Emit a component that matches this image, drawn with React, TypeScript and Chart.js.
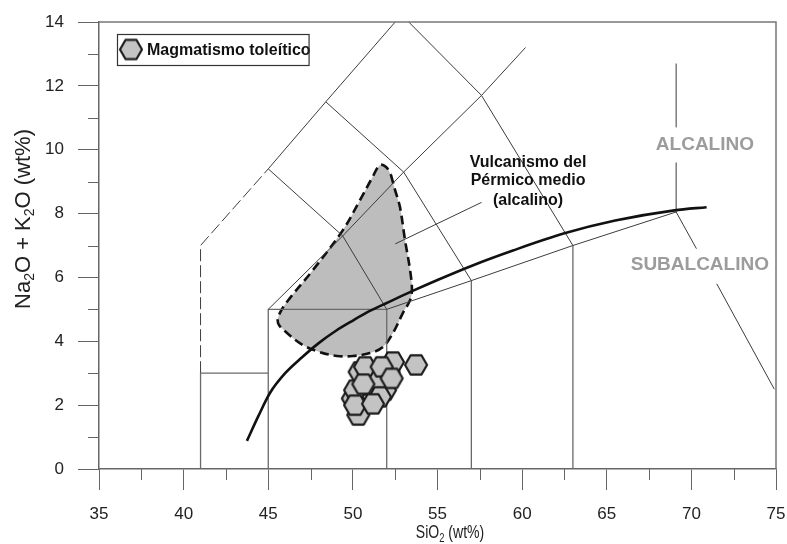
import React, { useEffect, useRef } from "react";
import { Chart, registerables } from "chart.js";

Chart.register(...registerables);

// ---------- axes ----------
const X_MIN = 35;
const X_MAX = 75;
const Y_MIN = 0;
const Y_MAX = 14;
const X_STEP = 5;
const Y_STEP = 2;
const X_MINOR_TICKS = [37.5, 42.5, 47.5, 52.5, 57.5, 62.5, 67.5, 72.5];
const Y_MINOR_TICKS = [1, 3, 5, 7, 9, 11, 13];

const X_TITLE = [
  { t: "SiO", sub: false },
  { t: "2", sub: true },
  { t: " (wt%)", sub: false },
];
const Y_TITLE = [
  { t: "Na", sub: false },
  { t: "2", sub: true },
  { t: "O + K", sub: false },
  { t: "2", sub: true },
  { t: "O (wt%)", sub: false },
];

// ---------- data ----------
// Magmatismo toleítico samples (SiO2 wt%, Na2O+K2O wt%)
const THOL_SIO2 = [51.3, 50.4, 52.1, 51.0, 51.9, 52.37, 51.5, 50.72, 51.7, 50.0, 51.6, 50.13, 50.32, 52.29, 50.62, 50.13, 51.19, 53.73];
const THOL_ALK = [3.04, 3.04, 3.04, 2.63, 2.47, 3.35, 2.79, 3.2, 3.2, 2.21, 2.26, 2.47, 1.69, 2.84, 2.66, 2.0, 2.04, 3.26];

// Field of the Middle Permian volcanism (alkaline)
const PERM_SIO2 = [52.25, 52.49, 52.78, 53.08, 53.38, 53.49, 53.38, 52.96, 52.37, 51.78, 51.01, 50.01, 49.06, 48.06, 47.05, 46.11, 45.58, 45.69, 46.29, 47.64, 49.42, 50.42, 51.13, 51.6, 51.96, 52.25];
const PERM_ALK = [9.21, 8.74, 8.21, 7.17, 6.23, 5.61, 5.29, 4.89, 4.26, 3.82, 3.63, 3.54, 3.54, 3.66, 3.88, 4.26, 4.57, 4.89, 5.36, 6.23, 7.49, 8.42, 9.11, 9.52, 9.46, 9.21];

// Alkaline / subalkaline boundary (Irvine & Baragar)
const IB_SIO2 = [43.74, 44.4, 45.1, 46.0, 47.0, 48.0, 49.0, 50.0, 51.0, 52.0, 53.5, 55.0, 57.0, 59.5, 62.5, 65.5, 69.0, 70.9];
const IB_ALK = [0.88, 1.64, 2.38, 3.0, 3.5, 3.95, 4.33, 4.65, 4.95, 5.2, 5.57, 5.92, 6.36, 6.85, 7.38, 7.78, 8.1, 8.2];

// TAS classification grid (polylines, [SiO2, alk])
const TAS_SOLID: number[][][] = [
  [[45, 5], [49.4, 7.3], [53, 9.3], [57.6, 11.7], [60.2, 13.2]],
  [[52, 5], [49.4, 7.3], [45, 9.4], [48.4, 11.5], [52.5, 14]],
  [[48.4, 11.5], [53, 9.3], [57, 5.9]],
  [[53.3, 14], [57.6, 11.7], [63, 7]],
  [[52, 5], [57, 5.9], [63, 7], [69.1, 8.05]],
  [[69.1, 8.05], [69.1, 9.6]],
  [[69.1, 10.7], [69.1, 12.7]],
  [[69.1, 8.05], [70.3, 6.9]],
  [[71.5, 5.8], [74.9, 2.5]],
];
const TAS_GRAY: number[][][] = [
  [[41, 0], [41, 3], [45, 3]],
  [[45, 0], [45, 5], [52, 5], [52, 0]],
  [[57, 5.9], [57, 0]],
  [[63, 7], [63, 0]],
];
const TAS_DASHED: number[][][] = [[[41, 3], [41, 7], [45, 9.4]]];
const LEADER: number[][] = [[52.5, 7.05], [57.6, 8.35]];

const LEGEND_LABEL = "Magmatismo toleítico";
const FIELD_LABEL = ["Vulcanismo del", "Pérmico medio", "(alcalino)"];
const ALK_LABEL = "ALCALINO";
const SUBALK_LABEL = "SUBALCALINO";

// annotation anchors (data coordinates)
const ANNOT = {
  field: { x: 60.35, y: [9.61, 9.02, 8.42] },
  alk: { x: 70.8, y: 10.15 },
  subalk: { x: 70.5, y: 6.39 },
};

const FONT = "'Liberation Sans', Arial, sans-serif";

function makeHexagon(r: number) {
  const c = document.createElement("canvas");
  const w = Math.ceil(2 * r + 4);
  const h = Math.ceil(Math.sqrt(3) * r + 4);
  c.width = w;
  c.height = h;
  const ctx = c.getContext("2d")!;
  ctx.translate(w / 2, h / 2);
  ctx.beginPath();
  for (let i = 0; i < 6; i++) {
    const a = (Math.PI / 3) * i;
    const px = r * Math.cos(a);
    const py = r * Math.sin(a);
    if (i === 0) ctx.moveTo(px, py);
    else ctx.lineTo(px, py);
  }
  ctx.closePath();
  ctx.fillStyle = "#c3c3c3";
  ctx.fill();
  ctx.lineWidth = 2.2;
  ctx.lineJoin = "round";
  ctx.strokeStyle = "#1c1c1c";
  ctx.stroke();
  return c;
}

function drawRich(ctx: CanvasRenderingContext2D, parts: { t: string; sub: boolean }[], size: number, subSize: number, family: string) {
  let total = 0;
  for (const p of parts) {
    ctx.font = `${p.sub ? subSize : size}px ${family}`;
    total += ctx.measureText(p.t).width;
  }
  let x = -total / 2;
  ctx.textAlign = "left";
  ctx.textBaseline = "middle";
  for (const p of parts) {
    ctx.font = `${p.sub ? subSize : size}px ${family}`;
    ctx.fillText(p.t, x, p.sub ? size * 0.3 : 0);
    x += ctx.measureText(p.t).width;
  }
}

export default function App() {
  const ref = useRef<HTMLCanvasElement>(null);

  useEffect(() => {
    if (!ref.current) return;
    const hex = makeHexagon(11);
    const pts = (xs: number[], ys: number[]) => xs.map((x, i) => ({ x, y: ys[i] }));
    const poly = (p: number[][]) => p.map(([x, y]) => ({ x, y }));
    const lineDs = (p: number[][], color: string, width: number, dash: number[] = []) => ({
      data: poly(p),
      showLine: true,
      borderColor: color,
      borderWidth: width,
      borderDash: dash,
      pointRadius: 0,
      fill: false,
      order: 5,
    });

    const datasets: any[] = [];
    datasets.push({
      label: "field",
      data: pts(PERM_SIO2, PERM_ALK),
      showLine: true,
      fill: "shape",
      backgroundColor: "#bdbdbd",
      borderColor: "#111",
      borderWidth: 2.6,
      borderDash: [9, 5],
      tension: 0.35,
      pointRadius: 0,
      order: 10,
    });
    TAS_SOLID.forEach((p) => datasets.push(lineDs(p, "#3c3c3c", 1)));
    TAS_GRAY.forEach((p) => datasets.push(lineDs(p, "#6a6a6a", 1.3)));
    TAS_DASHED.forEach((p) => datasets.push(lineDs(p, "#3c3c3c", 1, [12, 4])));
    datasets.push(lineDs(LEADER, "#3c3c3c", 1));
    datasets.push({
      label: "IB",
      data: pts(IB_SIO2, IB_ALK),
      showLine: true,
      borderColor: "#111",
      borderWidth: 2.6,
      cubicInterpolationMode: "monotone",
      pointRadius: 0,
      fill: false,
      order: 2,
    });
    datasets.push({
      label: LEGEND_LABEL,
      data: pts(THOL_SIO2, THOL_ALK),
      showLine: false,
      pointStyle: hex,
      pointRadius: 10,
      order: 1,
    });

    const decor = {
      id: "decor",
      afterDraw(chart: any) {
        const ctx: CanvasRenderingContext2D = chart.ctx;
        const a = chart.chartArea;
        const xs = chart.scales.x;
        const ys = chart.scales.y;
        ctx.save();
        // frame top / right
        ctx.strokeStyle = "#777";
        ctx.lineWidth = 1.5;
        ctx.beginPath();
        ctx.moveTo(a.left, a.top);
        ctx.lineTo(a.right, a.top);
        ctx.lineTo(a.right, a.bottom);
        ctx.stroke();
        // minor ticks
        ctx.strokeStyle = "#666";
        ctx.lineWidth = 1;
        ctx.beginPath();
        for (const v of X_MINOR_TICKS) {
          const px = Math.round(xs.getPixelForValue(v)) + 0.5;
          ctx.moveTo(px, a.bottom);
          ctx.lineTo(px, a.bottom + 11);
        }
        for (const v of Y_MINOR_TICKS) {
          const py = Math.round(ys.getPixelForValue(v)) + 0.5;
          ctx.moveTo(a.left - 11, py);
          ctx.lineTo(a.left, py);
        }
        ctx.stroke();

        // axis titles
        ctx.fillStyle = "#222";
        ctx.save();
        ctx.translate(450, 533);
        ctx.scale(0.78, 1);
        drawRich(ctx, X_TITLE, 18, 12, FONT);
        ctx.restore();
        ctx.save();
        ctx.translate(24, 219);
        ctx.rotate(-Math.PI / 2);
        drawRich(ctx, Y_TITLE, 22, 14, FONT);
        ctx.restore();

        // field label
        ctx.fillStyle = "#111";
        ctx.font = `bold 16px ${FONT}`;
        ctx.textAlign = "center";
        ctx.textBaseline = "middle";
        const fx = xs.getPixelForValue(ANNOT.field.x);
        FIELD_LABEL.forEach((t, i) => ctx.fillText(t, fx, ys.getPixelForValue(ANNOT.field.y[i])));
        // ALCALINO / SUBALCALINO
        ctx.fillStyle = "#9c9c9c";
        ctx.font = `bold 19px ${FONT}`;
        ctx.fillText(ALK_LABEL, xs.getPixelForValue(ANNOT.alk.x), ys.getPixelForValue(ANNOT.alk.y));
        ctx.fillText(SUBALK_LABEL, xs.getPixelForValue(ANNOT.subalk.x), ys.getPixelForValue(ANNOT.subalk.y));

        // legend box
        const bx = a.left + 18;
        const by = a.top + 12;
        ctx.font = `bold 16px ${FONT}`;
        const tw = ctx.measureText(LEGEND_LABEL).width;
        const bw = 28 + tw;
        const bh = 31;
        ctx.fillStyle = "#fff";
        ctx.fillRect(bx, by, bw, bh);
        ctx.drawImage(hex, bx + 14 - hex.width / 2, by + bh / 2 - hex.height / 2);
        ctx.fillStyle = "#111";
        ctx.textAlign = "left";
        ctx.fillText(LEGEND_LABEL, bx + 30, by + bh / 2 + 1);
        ctx.strokeStyle = "#333";
        ctx.lineWidth = 1.2;
        ctx.strokeRect(bx + 0.5, by + 0.5, bw, bh);
        ctx.restore();
      },
    };

    const chart = new Chart(ref.current, {
      type: "scatter",
      data: { datasets },
      options: {
        animation: false,
        responsive: false,
        devicePixelRatio: 1,
        layout: { padding: { top: 22, right: 11, left: 0, bottom: 0 } },
        plugins: { legend: { display: false }, tooltip: { enabled: false }, title: { display: false } },
        scales: {
          x: {
            type: "linear",
            min: X_MIN,
            max: X_MAX,
            afterFit: (s: any) => {
              s.height = 75;
              s.paddingLeft = 0;
              s.paddingRight = 0;
            },
            ticks: { stepSize: X_STEP, color: "#222", font: { size: 17, family: FONT }, padding: 14, maxRotation: 0 },
            grid: { drawOnChartArea: false, drawTicks: true, tickLength: 21, color: "#666", lineWidth: 1 },
            border: { display: true, color: "#666", width: 1.5 },
          },
          y: {
            type: "linear",
            min: Y_MIN,
            max: Y_MAX,
            afterFit: (s: any) => {
              s.width = 99;
              s.paddingTop = 0;
              s.paddingBottom = 0;
            },
            ticks: { stepSize: Y_STEP, color: "#222", font: { size: 17, family: FONT }, padding: 14 },
            grid: { drawOnChartArea: false, drawTicks: true, tickLength: 21, color: "#666", lineWidth: 1 },
            border: { display: true, color: "#666", width: 1.5 },
          },
        },
      },
      plugins: [decor],
    });
    return () => chart.destroy();
  }, []);

  return (
    <div style={{ position: "absolute", left: 0, top: 0, width: 787, height: 544, background: "#fff" }}>
      <canvas ref={ref} width={787} height={544} style={{ display: "block" }} />
    </div>
  );
}
